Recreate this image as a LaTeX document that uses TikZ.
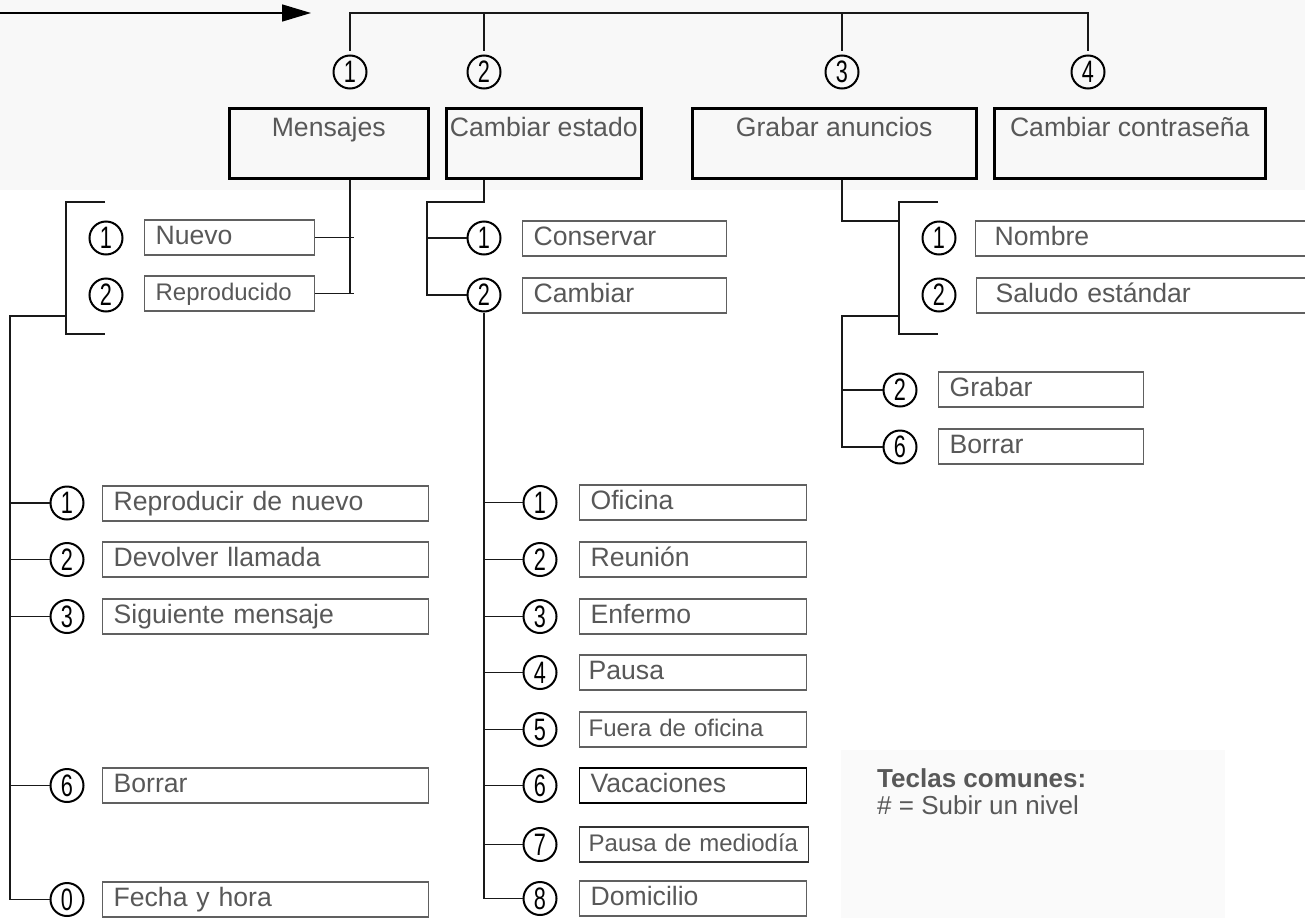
\documentclass[tikz,border=0pt]{standalone}
\usepackage{fontspec}
\setmainfont{Liberation Sans}
\newfontfamily\digitfont[FakeStretch=0.7]{Liberation Sans}
\usetikzlibrary{arrows.meta,calc}
\definecolor{txt}{HTML}{585858}
\definecolor{boxgray}{HTML}{606060}
\definecolor{bgtop}{HTML}{F8F8F8}
\definecolor{bgleg}{HTML}{FAFAFA}
\newcommand\mainsz{\fontsize{26.6}{30}\selectfont}
\newcommand\smallsz{\fontsize{24}{28}\selectfont}
\begin{document}
\begin{tikzpicture}[x=1pt,y=-1pt,
  conn/.style={line width=1.5pt, draw=black!90},
  topbox/.style={draw, line width=2.5pt, anchor=north west, minimum height=70pt,
    text height=19pt, text depth=33pt, inner ysep=9pt, inner xsep=0pt,
    font=\mainsz, text=txt},
  subbox/.style={draw=boxgray, line width=1.3pt, anchor=west, minimum height=35pt,
    text height=19pt, text depth=5pt, inner ysep=5.5pt, inner xsep=11pt,
    align=left, font=\mainsz, text=txt},
  num/.style={circle, draw, line width=2pt, minimum size=33pt, inner sep=0pt,
    font=\digitfont\fontsize{31}{31}\selectfont},
  legtext/.style={anchor=base west, inner sep=0pt, text=txt}]
\useasboundingbox (0,0) rectangle (1305,918);
\clip (0,0) rectangle (1305,918);
% backgrounds
\fill[bgtop] (0,0) rectangle (1305,190);
\fill[bgleg] (841,750) rectangle (1225,918);

% top arrow
\coordinate (arrS) at (0,13);
\coordinate (arrE) at (311,13);
\draw[line width=1.5pt, -{Triangle[length=29pt,width=17pt]}] (arrS) -- (arrE);

% top numbers
\coordinate (bar) at (0,13);
\node[num] (t1) at (350,72) {1};
\node[num] (t2) at (484,72) {2};
\node[num] (t3) at (842,72) {3};
\node[num] (t4) at (1088,72) {4};
\draw[conn, shorten <=4pt, shorten >=4pt] (t1.north) -- (t1 |- bar) -- (t4 |- bar) -- (t4.north);
\draw[conn, shorten >=4pt] (t2 |- bar) -- (t2.north);
\draw[conn, shorten >=4pt] (t3 |- bar) -- (t3.north);

% top boxes
\node[topbox, minimum width=199pt] (mens) at (228,107) {Mensajes};
\node[topbox, minimum width=195pt] (cest) at (445,107) {Cambiar estado};
\node[topbox, minimum width=284pt] (grab) at (691,107) {Grabar anuncios};
\node[topbox, minimum width=271pt] (ccon) at (993,107) {Cambiar contraseña};

% Mensajes sub-level
\node[num] (a1) at (106,238) {1};
\node[num] (a2) at (106,295) {2};
\node[subbox, text width=148pt] (nuevo) at (144,237.5) {Nuevo};
\node[subbox, text width=148pt, font=\smallsz] (repr) at (144,293.5) {Reproducido};
\coordinate (mx) at (354,0);
\draw[conn] (t1 |- mens.south) -- (t1 |- repr.east);
\draw[conn] (nuevo.east) -- (nuevo.east -| mx);
\draw[conn] (repr.east) -- (repr.east -| mx);

% left bracket
\coordinate (lb1) at (105,202);
\coordinate (lb2) at (66,202);
\coordinate (lb3) at (66,334);
\coordinate (lb4) at (105,334);
\coordinate (lj) at (66,316);
\coordinate (lx) at (10,316);
\draw[conn] (lb1) -- (lb2) -- (lb3) -- (lb4);

% message options
\node[num] (m1) at (67,503) {1};
\node[num] (m2) at (67,559.5) {2};
\node[num] (m3) at (67,616.5) {3};
\node[num] (m6) at (67,785.5) {6};
\node[num] (m0) at (67,899.5) {0};
\node[subbox, text width=304pt] (r1) at (102,503.5) {Reproducir de nuevo};
\node[subbox, text width=304pt] (r2) at (102,559.5) {Devolver llamada};
\node[subbox, text width=304pt] (r3) at (102,616.5) {Siguiente mensaje};
\node[subbox, text width=304pt] (r6) at (102,785.5) {Borrar};
\node[subbox, text width=304pt] (r0) at (102,899.5) {Fecha y hora};
\draw[conn] (lj) -- (lx) -- (lx |- m0) -- (m0.west);
\foreach \n in {m1,m2,m3,m6} \draw[conn] (lx |- \n) -- (\n.west);

% Cambiar estado sub-level
\coordinate (cb) at (427,202);
\node[num] (k1) at (484,238) {1};
\node[num] (k2) at (484,295) {2};
\node[subbox, text width=182pt] (cons) at (522,238.5) {Conservar};
\node[subbox, text width=182pt] (camb) at (522,295.5) {Cambiar};
\draw[conn] (t2 |- cest.south) -- (t2 |- cb) -- (cb) -- (cb |- k2) -- (k2.west);
\draw[conn] (cb |- k1) -- (k1.west);

% states
\node[num] (s1) at (540,502.5) {1};
\node[num] (s2) at (540,559.5) {2};
\node[num] (s3) at (540,616.5) {3};
\node[num] (s4) at (540,672.5) {4};
\node[num] (s5) at (540,729.5) {5};
\node[num] (s6) at (540,785.5) {6};
\node[num] (s7) at (540,844.5) {7};
\node[num] (s8) at (540,898.5) {8};
\node[subbox, text width=205pt] (e1) at (579,502.5) {Oficina};
\node[subbox, text width=205pt] (e2) at (579,559.5) {Reunión};
\node[subbox, text width=205pt] (e3) at (579,616.5) {Enfermo};
\node[subbox, inner xsep=9pt, text width=209pt] (e4) at (579,672.5) {Pausa};
\node[subbox, text width=209pt, inner xsep=9pt, font=\smallsz] (e5) at (579,729.5) {Fuera de oficina};
\node[subbox, text width=205pt, draw=black] (e6) at (579,785.5) {Vacaciones};
\node[subbox, text width=211pt, inner xsep=9pt, font=\smallsz, draw=black!80] (e7) at (579,844.5) {Pausa de mediodía};
\node[subbox, text width=205pt] (e8) at (579,898.5) {Domicilio};
\draw[conn] (k2.south) -- (k2 |- s8) -- (s8.west);
\foreach \n in {s1,s2,s3,s4,s5,s6,s7} \draw[conn] (k2 |- \n) -- (\n.west);

% Grabar anuncios sub-level
\coordinate (gj) at (899,221);
\coordinate (rb1) at (938,202);
\coordinate (rb2) at (899,202);
\coordinate (rb3) at (899,334);
\coordinate (rb4) at (938,334);
\coordinate (rj) at (899,316);
\draw[conn] (t3 |- grab.south) -- (t3 |- gj) -- (gj);
\draw[conn] (rb1) -- (rb2) -- (rb3) -- (rb4);
\node[num] (n1) at (939,238) {1};
\node[num] (n2) at (939,295) {2};
\node[subbox, text width=307pt, inner xsep=19pt] (nomb) at (975,238.5) {Nombre};
\node[subbox, text width=306pt, inner xsep=19pt] (salu) at (976,295.5) {Saludo estándar};
\node[num] (g2) at (900,390) {2};
\node[num] (g6) at (900,447) {6};
\node[subbox, text width=183pt] (grb) at (938,389.5) {Grabar};
\node[subbox, text width=183pt] (bor) at (938,446.5) {Borrar};
\draw[conn] (rj) -- (rj -| t3) -- (t3 |- g6) -- (g6.west);
\draw[conn] (t3 |- g2) -- (g2.west);

% legend
\node[legtext, font=\fontsize{26}{30}\selectfont\bfseries] (leg1) at (877,787) {Teclas comunes:};
\node[legtext, font=\fontsize{26}{30}\selectfont] (leg2) at (877,814) {\# = Subir un nivel};
\end{tikzpicture}
\end{document}
